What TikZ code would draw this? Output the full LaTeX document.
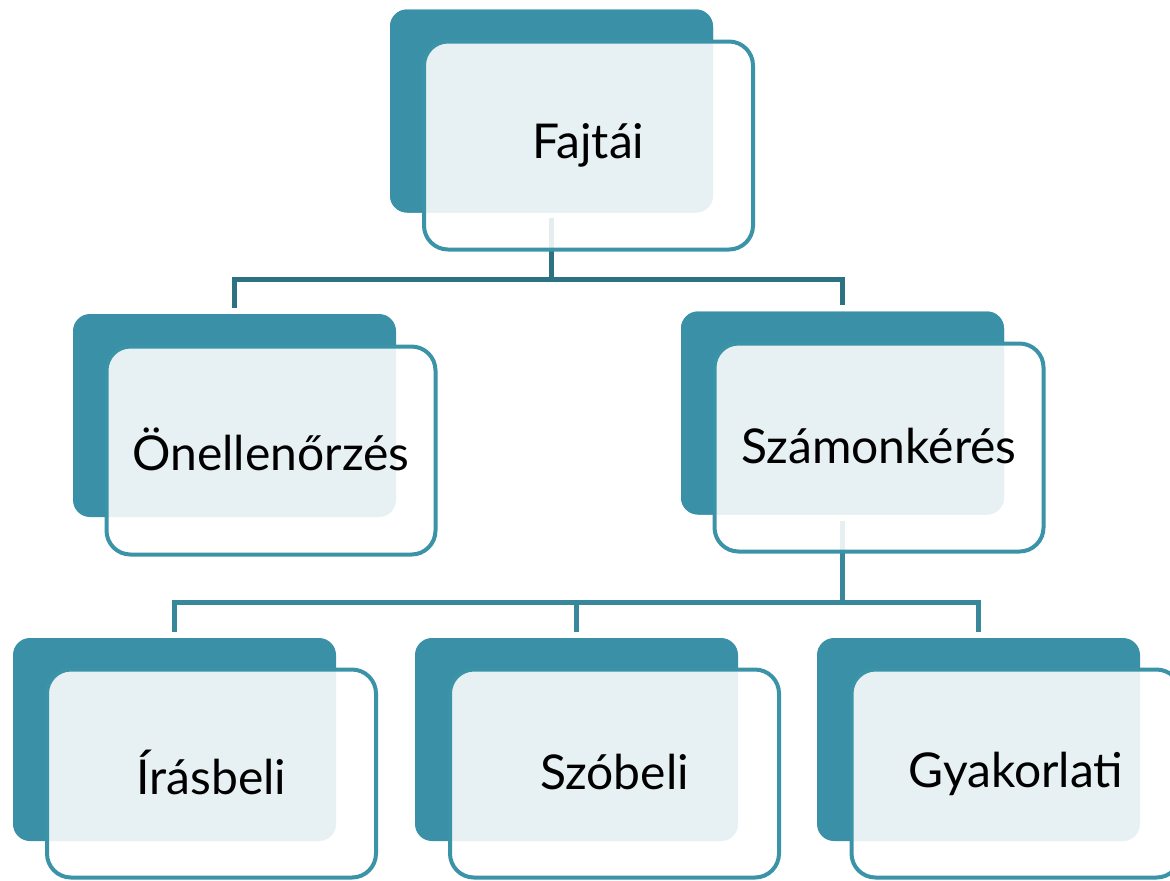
\documentclass[tikz,border=0pt]{standalone}
\usepackage{fontspec}
\setmainfont{Lato}
\usetikzlibrary{calc}
\definecolor{tealdark}{HTML}{3A91A7}
\definecolor{tealborder}{HTML}{3B93A8}
\definecolor{connA}{HTML}{2D7282}
\definecolor{connB}{HTML}{38879A}
\newcommand{\uplift}[1]{\raisebox{1.25pt}{#1}}
\tikzset{
  backbox/.style={rectangle, rounded corners=8.5pt, fill=tealdark, draw=none,
    minimum width=161.5pt, minimum height=101.5pt, inner sep=0pt},
  frontbox/.style={rectangle, rounded corners=12pt, draw=tealborder, line width=2pt,
    fill=white, fill opacity=0.88, text opacity=1, draw opacity=1,
    minimum width=164.5pt, minimum height=104pt, inner sep=0pt,
    font=\fontsize{24}{28}\selectfont, text=black},
  connupper/.style={draw=connA, line width=2.5pt},
  connlower/.style={draw=connB, line width=2.5pt},
}
\begin{document}
\begin{tikzpicture}[x=0.5pt,y=-0.5pt]
\useasboundingbox (0,0) rectangle (1170,880);
% back boxes
\node[backbox] (fajD)  at (551.5,111) {};
\node[backbox] (oneD)  at (234.5,415.5) {};
\node[backbox] (szamD) at (842.5,413) {};
\node[backbox] (irasD) at (174.5,739.5) {};
\node[backbox] (szoD)  at (576.5,739.5) {};
\node[backbox] (gyakD) at (978.5,739.5) {};
% connectors
\draw[connupper] ([yshift=-2.5pt]fajD.south) |- ([yshift=17pt]oneD.north) -- ([yshift=3pt]oneD.north);
\draw[connupper] ([yshift=-2.5pt]fajD.south) |- ([yshift=16pt]szamD.north) -- ([yshift=3pt]szamD.north);
\draw[connlower] ([yshift=-3pt]szamD.south) |- ([yshift=17.5pt]irasD.north) -- ([yshift=3pt]irasD.north);
\draw[connlower] ([yshift=-3pt]szamD.south) |- ([yshift=17.5pt]szoD.north) -- ([yshift=3pt]szoD.north);
\draw[connlower] ([yshift=-3pt]szamD.south) |- ([yshift=17.5pt]gyakD.north) -- ([yshift=3pt]gyakD.north);
% redraw back boxes over connectors
\node[backbox] at (fajD) {};
\node[backbox] at (szamD) {};
% front boxes
\node[frontbox] (faj)  at (588.5,145.5) {Fajtái};
\node[frontbox] (one)  at (271,450.5) {\uplift{Önellenőrzés}};
\node[frontbox] (szam) at (879,447.5) {\uplift{Számonkérés}};
\node[frontbox] (iras) at (211.5,773.5) {\uplift{Írásbeli}};
\node[frontbox] (szo)  at (614.5,773.5) {\uplift{Szóbeli}};
\node[frontbox] (gyak) at (1016,773.5) {Gyakorlati};
\end{tikzpicture}
\end{document}
